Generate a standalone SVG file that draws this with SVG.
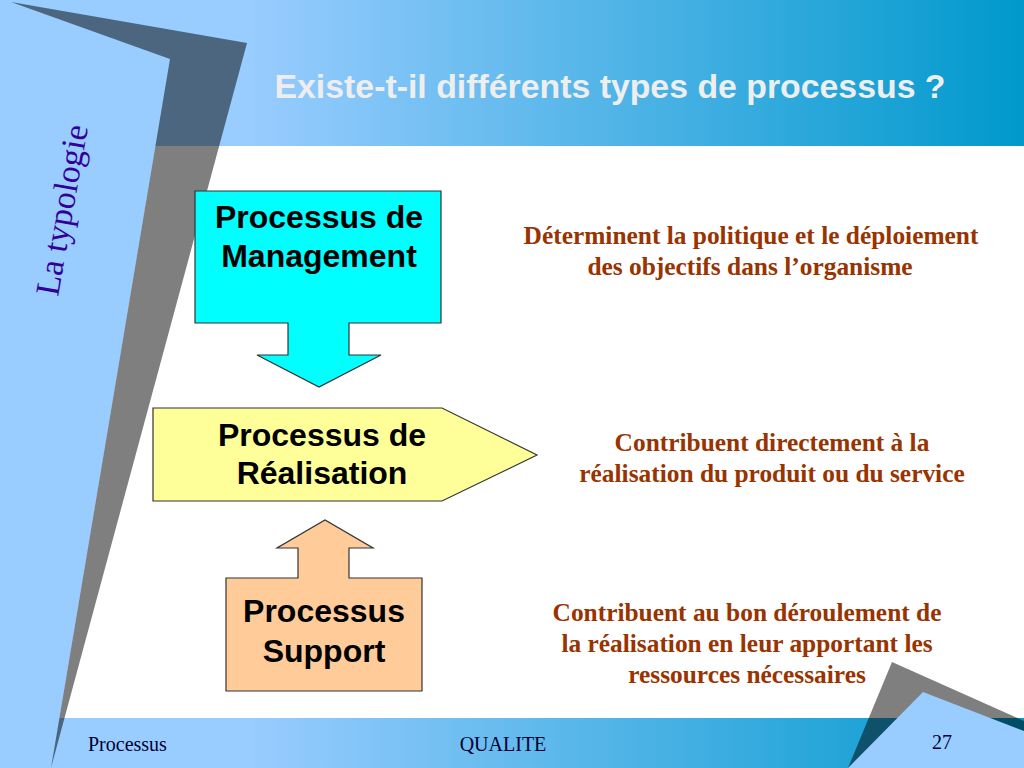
<svg xmlns="http://www.w3.org/2000/svg" width="1024" height="768" viewBox="0 0 1024 768">
<defs>
<linearGradient id="band" gradientUnits="userSpaceOnUse" x1="250" y1="0" x2="1024" y2="0">
<stop offset="0" stop-color="#99CCFF"/>
<stop offset="1" stop-color="#0099CC"/>
</linearGradient>
<style>
.box{font-family:"Liberation Sans",Arial,sans-serif;font-weight:bold;font-size:32px;fill:#000;text-anchor:middle}
.desc{font-family:"Liberation Serif","Times New Roman",serif;font-weight:bold;font-size:25.4px;fill:#993300;text-anchor:middle}
.foot{font-family:"Liberation Serif","Times New Roman",serif;font-size:20px;fill:#000033}
.shape{stroke:#333333;stroke-width:1.2}
</style>
</defs>
<g id="background">
<rect x="0" y="0" width="1024" height="768" fill="#99CCFF"/>
<rect x="0" y="0" width="1024" height="146" fill="url(#band)"/>
<polygon points="155.4,146 1024,146 1024,718 59.4,718" fill="#FFFFFF"/>
<rect x="0" y="718" width="1024" height="50" fill="url(#band)"/>
<polygon points="11,2 247,43 51,768 170,59" fill="#000000" fill-opacity="0.5"/>
<polygon points="848,768 892,662 1024,721 1024,768" fill="#000000" fill-opacity="0.5"/>
<polygon points="848,768 923,692 1024,731 1024,768" fill="#99CCFF"/>
</g>
<g id="title">
<text x="610" y="98" font-family="'Liberation Sans',Arial,sans-serif" font-weight="bold" font-size="33" fill="#EEEEEE" text-anchor="middle" textLength="671" lengthAdjust="spacingAndGlyphs">Existe-t-il différents types de processus ?</text>
</g>
<g id="side-label">
<text transform="translate(73,212) rotate(-80)" font-family="'Liberation Serif','Times New Roman',serif" font-size="34" fill="#330099" text-anchor="middle">La typologie</text>
</g>
<g id="connectors"></g>
<g id="node-management">
<polygon class="shape" points="195,191 441,191 441,323 349,323 349,355 381,355 319,387 257,355 288,355 288,323 195,323" fill="#00FFFF"/>
<text class="box" x="319" y="228">Processus de</text>
<text class="box" x="319" y="267">Management</text>
</g>
<g id="node-realisation">
<polygon class="shape" points="153,408 442,408 537,455 442,501 153,501" fill="#FFFF99"/>
<text class="box" x="322" y="446">Processus de</text>
<text class="box" x="322" y="484">Réalisation</text>
</g>
<g id="node-support">
<polygon class="shape" points="226,578 298,578 298,548 277,548 325,520 373,548 349,548 349,578 422,578 422,691 226,691" fill="#FFCC99"/>
<text class="box" x="324" y="622">Processus</text>
<text class="box" x="324" y="662">Support</text>
</g>
<g id="desc-management">
<text class="desc" x="751" y="244">Déterminent la politique et le déploiement</text>
<text class="desc" x="750" y="275">des objectifs dans l’organisme</text>
</g>
<g id="desc-realisation">
<text class="desc" x="772" y="451">Contribuent directement à la</text>
<text class="desc" x="772" y="482">réalisation du produit ou du service</text>
</g>
<g id="desc-support">
<text class="desc" x="747" y="621">Contribuent au bon déroulement de</text>
<text class="desc" x="747" y="652">la réalisation en leur apportant les</text>
<text class="desc" x="747" y="683">ressources nécessaires</text>
</g>
<g id="footer">
<text class="foot" x="88" y="751">Processus</text>
<text class="foot" x="503" y="751" text-anchor="middle">QUALITE</text>
<text class="foot" x="932" y="749">27</text>
</g>
</svg>
